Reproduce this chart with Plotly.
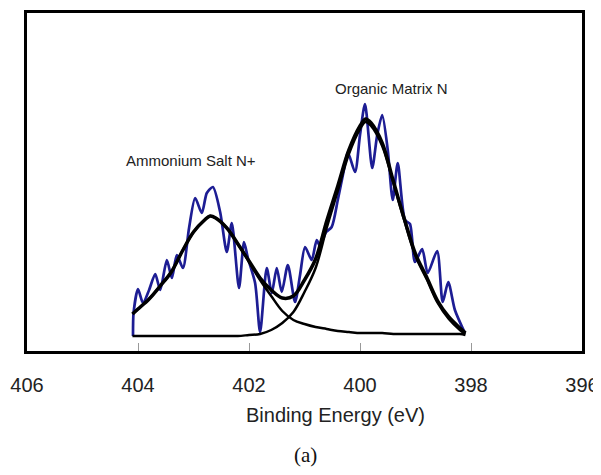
import plotly.graph_objects as go

# Raw spectrum (blue), binding energy in eV and intensity (arb. units)
raw_ev = [404.09, 404.08, 404.00, 403.91, 403.80, 403.69, 403.60, 403.48, 403.39, 403.30,
          403.19, 403.08, 402.97, 402.85, 402.76, 402.65, 402.52, 402.40, 402.31, 402.18,
          402.09, 402.02, 401.89, 401.80, 401.68, 401.59, 401.50, 401.41, 401.30, 401.17,
          401.08, 400.99, 400.87, 400.78, 400.72, 400.61, 400.51, 400.40, 400.29, 400.22,
          400.09, 400.00, 399.91, 399.78, 399.69, 399.60, 399.50, 399.41, 399.32, 399.19,
          399.10, 399.01, 398.88, 398.78, 398.61, 398.51, 398.41, 398.29, 398.11]
raw_int = [0, 23, 47, 33, 46, 62, 46, 76, 58, 81,
           68, 108, 138, 123, 143, 149, 124, 84, 113, 48,
           94, 78, 53, 4, 68, 43, 68, 44, 71, 34,
           61, 89, 76, 96, 90, 104, 109, 136, 166, 184,
           164, 201, 232, 168, 201, 221, 186, 136, 173, 116,
           112, 74, 87, 63, 85, 34, 54, 26, 3]

# Fitted curves
fit_ev = [404.1, 404.0, 403.8, 403.6, 403.4, 403.2, 403.0, 402.8, 402.7, 402.6,
          402.4, 402.2, 402.0, 401.8, 401.6, 401.4, 401.2, 401.0, 400.8, 400.6,
          400.4, 400.2, 400.0, 399.9, 399.8, 399.6, 399.4, 399.2, 399.0, 398.8,
          398.6, 398.4, 398.2, 398.1]
ammonium_fit = [22, 27, 37, 50, 64, 85, 104, 116, 120, 118,
                108, 92, 74, 56, 40, 25, 16, 12, 9, 7,
                5, 4, 3, 3, 3, 3, 2, 2, 2, 2,
                2, 2, 2, 1]
organic_fit = [0, 0, 0, 0, 0, 0, 0, 0, 0, 0,
               0, 0, 1, 2, 6, 13, 24, 44, 68, 108,
               145, 182, 207, 214, 210, 190, 153, 115, 80, 57,
               33, 17, 6, 2]
envelope_fit = [22, 27, 37, 50, 64, 85, 104, 116, 120, 118,
                108, 92, 75, 58, 46, 38, 40, 56, 77, 115,
                150, 186, 210, 217, 213, 193, 155, 117, 82, 59,
                35, 19, 8, 3]

tick_vals = [406, 404, 402, 400, 398, 396]
tick_text = ["406", "404", "402", "400", "398", "396"]

fig = go.Figure()
fig.add_trace(go.Scatter(x=raw_ev, y=raw_int, mode="lines",
                         line=dict(color="#1d1d94", width=2.7, shape="spline", smoothing=0.7),
                         showlegend=False, hoverinfo="skip"))
fig.add_trace(go.Scatter(x=fit_ev, y=ammonium_fit, mode="lines",
                         line=dict(color="black", width=2.5, shape="spline", smoothing=1),
                         showlegend=False, hoverinfo="skip"))
fig.add_trace(go.Scatter(x=fit_ev, y=organic_fit, mode="lines",
                         line=dict(color="black", width=2.5, shape="spline", smoothing=1),
                         showlegend=False, hoverinfo="skip"))
fig.add_trace(go.Scatter(x=fit_ev, y=envelope_fit, mode="lines",
                         line=dict(color="black", width=3.5, shape="spline", smoothing=1),
                         showlegend=False, hoverinfo="skip"))

fig.add_annotation(x=403.05, y=176, text="Ammonium Salt N+", showarrow=False,
                   font=dict(family="Liberation Sans, Arial", size=15, color="#222"))
fig.add_annotation(x=399.44, y=248, text="Organic Matrix N", showarrow=False,
                   font=dict(family="Liberation Sans, Arial", size=15, color="#222"))
fig.add_annotation(x=0.555, y=-0.189, xref="paper", yref="paper", text="Binding Energy (eV)",
                   showarrow=False, yanchor="middle",
                   font=dict(family="Liberation Sans, Arial", size=20, color="#222"))
fig.add_annotation(x=0.501, y=-0.308, xref="paper", yref="paper", text="(a)",
                   showarrow=False, yanchor="middle",
                   font=dict(family="Liberation Serif, Times New Roman", size=21, color="#111"))

# The page body has an 8px margin, so the figure is sized to fit the window
fig.update_layout(
    width=593, height=459,
    margin=dict(l=19, r=19, t=5, b=116, autoexpand=False),
    paper_bgcolor="white", plot_bgcolor="white",
    showlegend=False,
    xaxis=dict(range=[406, 396], tickvals=tick_vals, ticktext=tick_text,
               ticks="inside", ticklen=8, tickwidth=1, tickcolor="#999",
               showline=True, linecolor="black", linewidth=3, mirror=True,
               showgrid=False, zeroline=False, ticklabelstandoff=14, automargin=False,
               tickfont=dict(family="Liberation Sans, Arial", size=20, color="#222")),
    yaxis=dict(range=[-15, 323], showticklabels=False, ticks="",
               showline=True, linecolor="black", linewidth=3, mirror=True,
               showgrid=False, zeroline=False, automargin=False),
)

fig.write_html("out.html")
